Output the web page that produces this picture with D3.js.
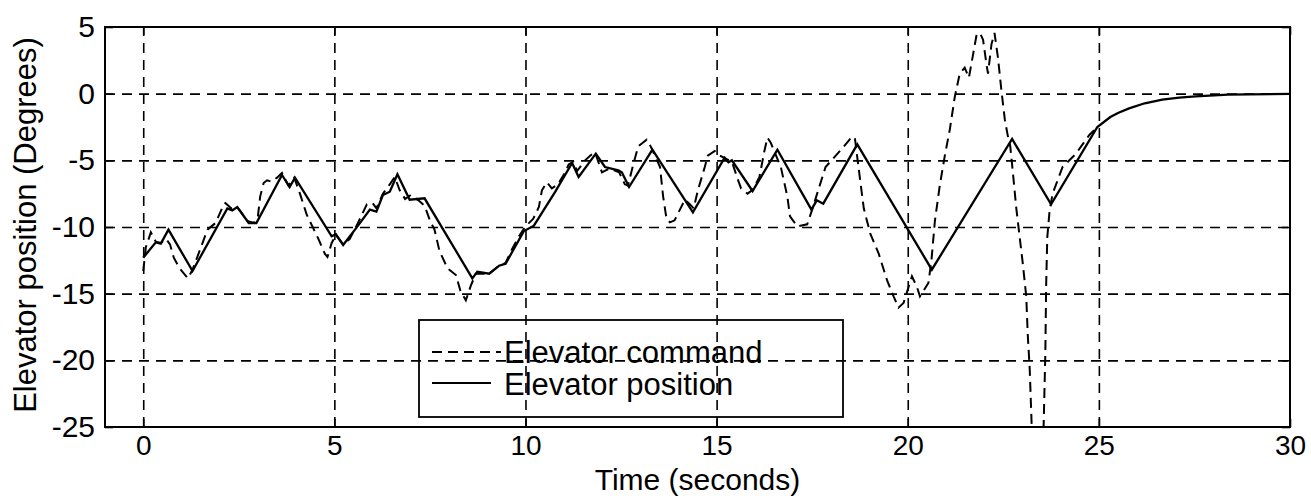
<!DOCTYPE html>
<html>
<head>
<meta charset="utf-8">
<script src="https://cdn.jsdelivr.net/npm/d3@7"></script>
<style>
  body { margin: 0; background: #fff; }
  text { font-family: Arial, "Liberation Sans", sans-serif; fill: #000; }
</style>
</head>
<body>
<div id="vis1"></div>
<script>
// values: [time (s), degrees]
let xTicks = [0, 5, 10, 15, 20, 25, 30]
let yTicks = [5, 0, -5, -10, -15, -20, -25]
let legendLabels = ['Elevator command', 'Elevator position']

let commandData = [
  [0, -13.3], [0.07, -11.5], [0.2, -10.4], [0.33, -11.1], [0.46, -11.2], [0.6, -10.9], [0.7, -11.3],
  [0.8, -12.3], [0.95, -13.1], [1.17, -13.85], [1.29, -13.2], [1.5, -11.6], [1.68, -10.2], [1.89, -9.7],
  [2.11, -8.3], [2.15, -8.2], [2.3, -8.6], [2.42, -8.4], [2.54, -8.8], [2.72, -9.55], [2.9, -9.7],
  [3.0, -9.2], [3.06, -7.7], [3.15, -6.7], [3.24, -6.5], [3.35, -6.6], [3.5, -6.3], [3.63, -5.95],
  [3.8, -6.9], [3.95, -6.3], [4.1, -7.5], [4.28, -9.1], [4.45, -10.1], [4.6, -11.0], [4.75, -12.0],
  [4.82, -12.25], [4.93, -11.2], [5.04, -10.6], [5.23, -11.3], [5.4, -10.9], [5.6, -9.8], [5.85, -8.3],
  [6.0, -8.2], [6.1, -8.6], [6.27, -7.5], [6.45, -6.8], [6.58, -6.25], [6.71, -7.25], [6.85, -7.9],
  [7.0, -7.6], [7.2, -8.0], [7.36, -8.4], [7.5, -9.5], [7.62, -10.2], [7.75, -11.8], [7.96, -13.1],
  [8.18, -13.6], [8.3, -14.8], [8.44, -15.5], [8.57, -14.4], [8.7, -13.5], [9.05, -13.5], [9.31, -12.9],
  [9.48, -12.7], [9.65, -11.65], [9.83, -10.7], [10.0, -9.95], [10.2, -9.4], [10.35, -8.5], [10.43, -7.25],
  [10.56, -6.65], [10.69, -7.1], [10.85, -6.8], [11.04, -5.9], [11.13, -5.3], [11.25, -5.1], [11.35, -5.8],
  [11.56, -5.0], [11.69, -4.65], [11.82, -4.4], [12.0, -5.9], [12.2, -5.6], [12.45, -5.9], [12.6, -6.8],
  [12.68, -6.9], [12.82, -5.3], [12.95, -3.95], [13.17, -3.45], [13.25, -3.8], [13.52, -5.5], [13.6, -7.7],
  [13.69, -9.4], [13.78, -9.65], [13.9, -9.5], [14.04, -8.7], [14.17, -7.95], [14.3, -8.3], [14.4, -8.6],
  [14.51, -7.25], [14.69, -5.5], [14.77, -4.65], [14.95, -4.3], [15.05, -4.6], [15.25, -4.9], [15.4, -5.1],
  [15.55, -6.4], [15.64, -7.1], [15.81, -7.5], [15.95, -7.2], [16.12, -6.25], [16.25, -4.3], [16.33, -3.3],
  [16.42, -3.7], [16.68, -5.5], [16.85, -7.7], [16.92, -9.2], [17.11, -9.95], [17.37, -9.8], [17.5, -8.7],
  [17.63, -7.5], [17.85, -5.5], [18.07, -4.8], [18.33, -3.95], [18.55, -3.2], [18.62, -3.4], [18.76, -6.6],
  [18.85, -8.6], [19.02, -10.5], [19.24, -12.0], [19.46, -14.0], [19.63, -15.2], [19.76, -16.05], [19.89, -15.7],
  [20.11, -13.7], [20.24, -14.5], [20.32, -15.2], [20.54, -14.2], [20.62, -12.5], [20.71, -9.55], [20.84, -6.85],
  [20.97, -4.65], [21.1, -2.7], [21.23, -0.25], [21.36, 1.5], [21.49, 1.95], [21.6, 1.2], [21.71, 2.95],
  [21.8, 4.4], [21.89, 4.55], [21.97, 4.05], [22.06, 2.2], [22.1, 1.5], [22.19, 3.7], [22.27, 4.55],
  [22.36, 2.7], [22.45, 0.25], [22.54, -1.95], [22.62, -3.2], [22.68, -3.9], [22.75, -5.9], [22.84, -8.6],
  [22.93, -10.8], [23.01, -12.75], [23.1, -15.2], [23.14, -18.1], [23.19, -20.6], [23.25, -25.5], [23.4, -30],
  [23.55, -25.5], [23.6, -19.4], [23.62, -14.5], [23.65, -10.8], [23.71, -8.8], [23.79, -7.5], [24.05, -5.5],
  [24.4, -4.5], [24.75, -3.1], [24.96, -2.5]
]

let positionData = [
  [0, -12.3], [0.33, -11.15], [0.46, -11.25], [0.66, -10.2], [1.29, -13.3], [2.2, -8.6], [2.33, -8.75],
  [2.46, -8.5], [2.76, -9.7], [2.96, -9.7], [3.63, -6.1], [3.83, -7.0], [3.97, -6.3], [4.93, -10.7],
  [5.04, -10.55], [5.23, -11.35], [5.58, -10.05], [5.93, -8.7], [6.1, -8.85], [6.27, -7.6], [6.45, -7.35],
  [6.65, -6.05], [6.97, -7.95], [7.36, -7.85], [8.61, -13.85], [8.74, -13.35], [9.05, -13.5], [9.31, -12.9],
  [9.48, -12.75], [9.96, -10.3], [10.22, -9.9], [10.78, -7.35], [11.22, -5.2], [11.39, -6.25], [11.84, -4.5],
  [12.08, -5.5], [12.43, -5.75], [12.52, -5.9], [12.71, -7.0], [13.32, -4.2], [14.38, -8.9], [15.21, -4.8],
  [15.31, -5.15], [15.4, -5.0], [15.94, -7.3], [16.59, -4.2], [17.48, -8.7], [17.62, -8.0], [17.79, -8.25],
  [18.68, -3.8], [20.63, -13.2], [22.73, -3.4], [23.75, -8.3], [24.96, -2.5], [25.3, -1.75], [25.5, -1.45],
  [25.79, -1.1], [26.2, -0.72], [26.66, -0.45], [27.1, -0.3], [27.53, -0.2], [28.38, -0.07], [30, -0.02]
]

let margin = {
    top: 27,
    left: 105,
    right: 21,
    bottom: 73
  },
  width = 1311 - margin.left - margin.right,
  height = 500 - margin.top - margin.bottom;

let svg = d3.select('#vis1')
  .append('svg')
  .attr('width', 1311)
  .attr('height', 500)
  .style('background-color', '#fff')

let g = svg.append('g')
  .attr('transform', `translate(${margin.left},${margin.top})`)

let x = d3.scaleLinear().domain([-1, 30]).range([0, width])
let y = d3.scaleLinear().domain([-25, 5]).range([height, 0])

// dashed grid
let gridX = g.append('g')
  .attr('transform', `translate(0,${height})`)
  .call(d3.axisBottom(x).tickValues(xTicks.slice(0, -1)).tickSize(-height).tickFormat(''))
let gridY = g.append('g')
  .call(d3.axisLeft(y).tickValues(yTicks.slice(1, -1)).tickSize(-width).tickFormat(''))
;[gridX, gridY].forEach(gr => {
  gr.select('.domain').remove()
  gr.selectAll('line')
    .attr('stroke', '#000')
    .attr('stroke-width', 1.6)
    .attr('stroke-dasharray', '10,7')
})

// small inner ticks on all four sides
g.append('g').attr('transform', `translate(0,${height})`)
  .call(d3.axisBottom(x).tickValues(xTicks).tickSize(-8).tickFormat(''))
g.append('g')
  .call(d3.axisTop(x).tickValues(xTicks).tickSize(-8).tickFormat(''))
g.append('g')
  .call(d3.axisLeft(y).tickValues(yTicks).tickSize(-8).tickFormat(''))
g.append('g').attr('transform', `translate(${width},0)`)
  .call(d3.axisRight(y).tickValues(yTicks).tickSize(-8).tickFormat(''))
g.selectAll('.domain').remove()
g.selectAll('.tick line').attr('stroke', '#000').attr('stroke-width', 1.6)

// tick labels
let xAxis = g.append('g')
  .attr('transform', `translate(0,${height})`)
  .call(d3.axisBottom(x).tickValues(xTicks).tickSize(0).tickPadding(8).tickFormat(d3.format('d')))
let yAxis = g.append('g')
  .call(d3.axisLeft(y).tickValues(yTicks).tickSize(0).tickPadding(10).tickFormat(d3.format('d')))
;[xAxis, yAxis].forEach(ax => {
  ax.select('.domain').remove()
  ax.selectAll('text')
    .style('font-size', '30px')
    .style('font-family', 'Arial, "Liberation Sans", sans-serif')
    .attr('fill', '#000')
})
xAxis.selectAll('text').style('font-size', '28px')
yAxis.selectAll('text').text(d => d < 0 ? '-' + Math.abs(d) : d)

// data lines
svg.append('clipPath').attr('id', 'plotclip')
  .append('rect').attr('width', width).attr('height', height)

let line = d3.line()
  .x(d => x(d[0]))
  .y(d => y(d[1]))

let lines = g.append('g').attr('clip-path', 'url(#plotclip)')

lines.append('path')
  .datum(commandData)
  .attr('d', line)
  .attr('fill', 'none')
  .attr('stroke', '#000')
  .attr('stroke-width', 2)
  .attr('stroke-dasharray', '10,6')

lines.append('path')
  .datum(positionData)
  .attr('d', line)
  .attr('fill', 'none')
  .attr('stroke', '#000')
  .attr('stroke-width', 2.3)

// frame
g.append('rect')
  .attr('width', width)
  .attr('height', height)
  .attr('fill', 'none')
  .attr('stroke', '#000')
  .attr('stroke-width', 2)

// legend
let legend = g.append('g').attr('transform', 'translate(314,293)')
legend.append('rect')
  .attr('width', 424)
  .attr('height', 97)
  .attr('fill', 'none')
  .attr('stroke', '#000')
  .attr('stroke-width', 1.8)

legend.append('line')
  .attr('x1', 13).attr('x2', 82).attr('y1', 32).attr('y2', 32)
  .attr('stroke', '#000').attr('stroke-width', 1.8).attr('stroke-dasharray', '10,6')
legend.append('line')
  .attr('x1', 13).attr('x2', 72).attr('y1', 63).attr('y2', 63)
  .attr('stroke', '#000').attr('stroke-width', 1.8)

legend.selectAll('text.lab')
  .data(legendLabels)
  .enter()
  .append('text')
  .attr('class', 'lab')
  .attr('x', 85)
  .attr('y', (d, i) => 43 + i * 32)
  .style('font-size', '31px')
  .text(d => d)

// axis titles
svg.append('text')
  .attr('x', margin.left + width / 2)
  .attr('y', 490)
  .attr('text-anchor', 'middle')
  .style('font-size', '30px')
  .text('Time (seconds)')

svg.append('text')
  .attr('transform', 'translate(36,225) rotate(-90)')
  .attr('text-anchor', 'middle')
  .style('font-size', '31px')
  .text('Elevator position (Degrees)')
</script>
</body>
</html>
